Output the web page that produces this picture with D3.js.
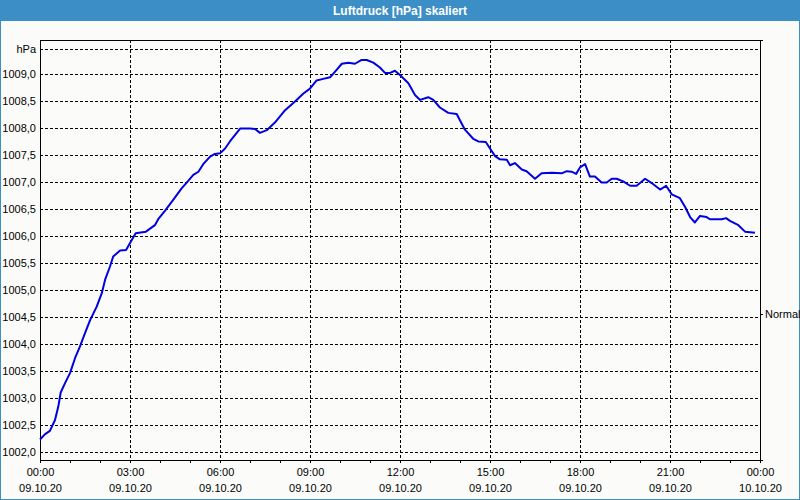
<!DOCTYPE html>
<html>
<head>
<meta charset="utf-8">
<script src="https://cdn.jsdelivr.net/npm/d3@7"></script>
<style>
	body { margin: 0; background: #fbfcfa; }
	svg { display: block; font-family: 'Liberation Sans', Arial, sans-serif; }
	.grid line { stroke: #000; stroke-dasharray: 3,2; shape-rendering: crispEdges; }
	.axis path, .axis line { stroke: #000; shape-rendering: crispEdges; }
	.axis text { font-size: 11px; fill: #000; }
</style>
</head>
<body>
<div id="chart"></div>
<script>
// Stunden ab 09.10.20 00:00
const hours = [
	0, 0.17, 0.33, 0.5, 0.61, 0.69, 0.83, 1.0, 1.17, 1.33, 1.5, 1.67, 1.89, 2.06, 2.17, 2.33, 2.44, 2.67, 2.87,
	3.02, 3.19, 3.53, 3.83, 3.94, 4.17, 4.44, 4.72, 4.94, 5.11, 5.28, 5.44, 5.67, 5.83, 6.0, 6.17, 6.33, 6.67,
	7.0, 7.17, 7.33, 7.56, 7.83, 8.17, 8.5, 8.78, 9.0, 9.22, 9.44, 9.67, 9.83, 10.06, 10.28, 10.5, 10.72, 10.89,
	11.11, 11.33, 11.5, 11.67, 11.83, 12.0, 12.28, 12.5, 12.67, 12.94, 13.11, 13.33, 13.61, 13.89, 14.15, 14.44,
	14.61, 14.86, 15.0, 15.17, 15.33, 15.56, 15.67, 15.83, 16.06, 16.22, 16.5, 16.72, 17.06, 17.39, 17.56, 17.72,
	17.87, 18.0, 18.17, 18.33, 18.5, 18.72, 18.89, 19.06, 19.22, 19.44, 19.67, 19.89, 20.17, 20.39, 20.67, 20.87,
	21.06, 21.33, 21.5, 21.67, 21.83, 22.0, 22.22, 22.33, 22.72, 22.87, 23.0, 23.28, 23.5, 23.67, 23.83,
];
const pressure = [
	1002.23, 1002.33, 1002.39, 1002.59, 1002.84, 1003.10, 1003.27, 1003.46, 1003.74, 1003.95, 1004.20, 1004.44,
	1004.69, 1004.94, 1005.19, 1005.43, 1005.62, 1005.73, 1005.74, 1005.89, 1006.05, 1006.08, 1006.20, 1006.31,
	1006.47, 1006.67, 1006.88, 1007.02, 1007.13, 1007.19, 1007.33, 1007.47, 1007.52, 1007.53, 1007.62, 1007.75,
	1007.99, 1007.99, 1007.98, 1007.91, 1007.96, 1008.10, 1008.33, 1008.49, 1008.64, 1008.73, 1008.88, 1008.91,
	1008.94, 1009.04, 1009.19, 1009.21, 1009.19, 1009.26, 1009.26, 1009.21, 1009.12, 1009.02, 1009.02, 1009.06,
	1008.98, 1008.83, 1008.61, 1008.52, 1008.57, 1008.52, 1008.38, 1008.28, 1008.26, 1007.98, 1007.80, 1007.75,
	1007.74, 1007.62, 1007.48, 1007.42, 1007.41, 1007.31, 1007.35, 1007.23, 1007.20, 1007.06, 1007.16, 1007.17,
	1007.16, 1007.20, 1007.19, 1007.15, 1007.27, 1007.33, 1007.10, 1007.10, 1006.99, 1006.99, 1007.06, 1007.06,
	1007.01, 1006.93, 1006.93, 1007.06, 1006.98, 1006.86, 1006.93, 1006.77, 1006.70, 1006.54, 1006.35, 1006.25,
	1006.37, 1006.35, 1006.31, 1006.31, 1006.33, 1006.28, 1006.20, 1006.08, 1006.07, 1006.06,
];
const yTicks = [1002.0, 1002.5, 1003.0, 1003.5, 1004.0, 1004.5, 1005.0, 1005.5, 1006.0, 1006.5, 1007.0, 1007.5, 1008.0, 1008.5, 1009.0];
const unitTick = { value: 1009.47, label: 'hPa' };
const normalTick = { value: 1004.56, label: 'Normal' };
const yDomain = [1001.85, 1009.63];
const xStart = new Date(2020, 9, 9, 0, 0);
const xEnd = new Date(2020, 9, 10, 0, 0);
const title = 'Luftdruck [hPa] skaliert';

class PressureChart {
	constructor({ element, hours, pressure }) {
		this.element = element;
		this.data = hours.map((h, i) => ({
			time: new Date(xStart.getTime() + h * 3600000),
			value: pressure[i],
		}));
		this.draw();
	}

	draw() {
		this.width = 800;
		this.height = 500;
		this.margin = { top: 40, right: 40, bottom: 40, left: 40 };

		this.element.innerHTML = '';
		this.svg = d3.select(this.element).append('svg')
			.attr('width', this.width)
			.attr('height', this.height);

		this.addFrame();
		this.createScales();
		this.addGrid();
		this.addAxes();
		this.addLine();
	}

	addFrame() {
		this.svg.append('rect')
			.attr('x', 0.5).attr('y', 0.5)
			.attr('width', this.width - 1).attr('height', this.height - 1)
			.attr('fill', '#fbfcfa')
			.attr('stroke', '#3c8fc6');

		this.svg.append('rect')
			.attr('x', 0).attr('y', 0)
			.attr('width', this.width).attr('height', 21)
			.attr('fill', '#3c8fc6');

		this.svg.append('text')
			.attr('x', this.width / 2)
			.attr('y', 14.5)
			.attr('text-anchor', 'middle')
			.style('font-size', '12px')
			.style('font-weight', 'bold')
			.style('fill', '#fff')
			.text(title);
	}

	createScales() {
		const m = this.margin;
		this.xScale = d3.scaleTime()
			.domain([xStart, xEnd])
			.range([m.left, this.width - m.right]);

		this.yScale = d3.scaleLinear()
			.domain(yDomain)
			.range([this.height - m.bottom, m.top]);
	}

	addGrid() {
		const m = this.margin;
		const grid = this.svg.append('g').attr('class', 'grid');

		grid.selectAll('.hline')
			.data(yTicks.concat([unitTick.value]))
			.join('line')
			.attr('x1', m.left).attr('x2', this.width - m.right)
			.attr('y1', (d) => Math.round(this.yScale(d)) + 0.5)
			.attr('y2', (d) => Math.round(this.yScale(d)) + 0.5);

		const vticks = this.xScale.ticks(d3.timeHour.every(3)).slice(1, -1);
		grid.selectAll('.vline')
			.data(vticks)
			.join('line')
			.attr('x1', (d) => Math.round(this.xScale(d)) + 0.5)
			.attr('x2', (d) => Math.round(this.xScale(d)) + 0.5)
			.attr('y1', m.top).attr('y2', this.height - m.bottom);
	}

	addAxes() {
		const m = this.margin;
		const fmtTime = d3.timeFormat('%H:%M');
		const fmtDate = d3.timeFormat('%d.%m.%y');

		// Stunden-Ticks
		const xMinor = d3.axisBottom(this.xScale)
			.ticks(d3.timeHour.every(1))
			.tickSize(3)
			.tickFormat('');
		this.svg.append('g')
			.attr('class', 'x axis')
			.attr('transform', `translate(0, ${this.height - m.bottom})`)
			.call(xMinor);

		const xAxis = d3.axisBottom(this.xScale)
			.ticks(d3.timeHour.every(3))
			.tickSize(3)
			.tickPadding(5)
			.tickFormat(fmtTime);
		const gx = this.svg.append('g')
			.attr('class', 'x axis')
			.attr('transform', `translate(0, ${this.height - m.bottom})`)
			.call(xAxis);
		gx.select('.domain').remove();
		gx.selectAll('.tick text')
			.append('tspan')
			.attr('x', 0)
			.attr('dy', '1.45em')
			.text((d) => fmtDate(d));

		const yAxis = d3.axisLeft(this.yScale)
			.tickValues(yTicks.concat([unitTick.value]))
			.tickSize(0)
			.tickPadding(4)
			.tickFormat((d) => (d === unitTick.value ? unitTick.label : d3.format('.1f')(d).replace('.', ',')));
		this.svg.append('g')
			.attr('class', 'y axis')
			.attr('transform', `translate(${m.left}, 0)`)
			.call(yAxis);

		const yRight = d3.axisRight(this.yScale)
			.tickValues([normalTick.value])
			.tickSize(3)
			.tickPadding(2)
			.tickFormat(() => normalTick.label);
		this.svg.append('g')
			.attr('class', 'y axis')
			.attr('transform', `translate(${this.width - m.right}, 0)`)
			.call(yRight);

		// Rahmen oben
		this.svg.append('line')
			.attr('x1', m.left).attr('x2', this.width - m.right)
			.attr('y1', m.top + 0.5).attr('y2', m.top + 0.5)
			.attr('stroke', '#000')
			.style('shape-rendering', 'crispEdges');
	}

	addLine() {
		const line = d3.line()
			.x((d) => this.xScale(d.time))
			.y((d) => this.yScale(d.value));
		this.svg.append('path')
			.datum(this.data)
			.classed('line', true)
			.attr('d', line)
			.attr('fill', 'none')
			.attr('stroke-width', 2)
			.attr('stroke-linejoin', 'round')
			.style('stroke', '#0000e0');
	}
}

new PressureChart({ element: document.getElementById('chart'), hours, pressure });
</script>
</body>
</html>
